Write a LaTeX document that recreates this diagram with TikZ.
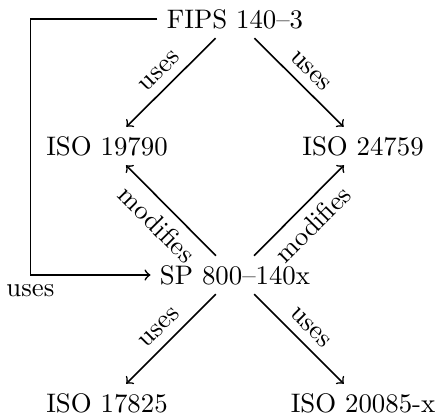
\documentclass[tikz,border=0pt]{standalone}
\begin{document}
\begin{tikzpicture}[x=0.3731pt,y=0.3731pt,>=to,
  conn/.style={->,semithick},
  lbl/.style={sloped}]
\useasboundingbox (0,0) rectangle (437,418);
\node (fips) at (235,399) {FIPS 140--3};
\node (i19790) at (107,272) {ISO 19790};
\node (i24759) at (363,272) {ISO 24759};
\node (sp) at (235,143) {SP 800--140x};
\node (i17825) at (107,15) {ISO 17825};
\node (i20085) at (363,15) {ISO 20085-x};
\draw[conn] (fips) -- node[lbl,above]{uses} (i19790);
\draw[conn] (fips) -- node[lbl,above]{uses} (i24759);
\draw[conn] (sp) -- node[lbl,below]{modifies} (i19790);
\draw[conn] (sp) -- node[lbl,below]{modifies} (i24759);
\draw[conn] (sp) -- node[lbl,above]{uses} (i17825);
\draw[conn] (sp) -- node[lbl,above]{uses} (i20085);
\draw[conn] (fips.west) -- ++(-127,0) |- node[below]{uses} (sp.west);
\end{tikzpicture}
\end{document}
